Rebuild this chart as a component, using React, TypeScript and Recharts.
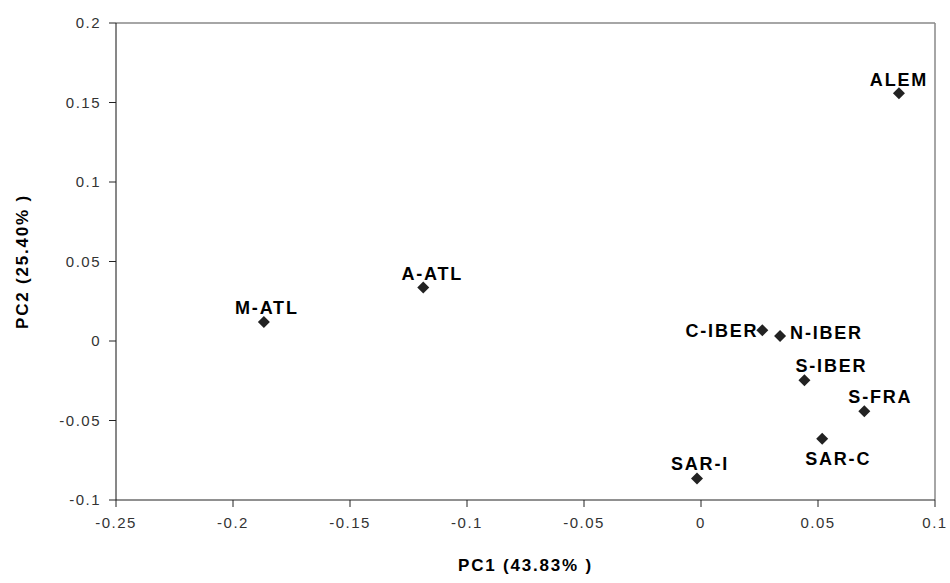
import React from 'react';
import { ScatterChart, Scatter, XAxis, YAxis, ReferenceLine, Label } from 'recharts';

const POPULATIONS = ['ALEM', 'A-ATL', 'M-ATL', 'C-IBER', 'N-IBER', 'S-IBER', 'S-FRA', 'SAR-C', 'SAR-I'];
const PC1 = [0.0846, -0.1187, -0.1868, 0.0262, 0.0338, 0.0442, 0.0698, 0.0518, -0.0017];
const PC2 = [0.1558, 0.0336, 0.012, 0.0067, 0.0031, -0.0247, -0.0442, -0.0614, -0.0865];

const X_TICKS = [-0.25, -0.2, -0.15, -0.1, -0.05, 0, 0.05, 0.1];
const Y_TICKS = [-0.1, -0.05, 0, 0.05, 0.1, 0.15, 0.2];

// where each label sits relative to its marker
const LABEL_PLACE: Record<string, { dx: number; dy: number; anchor: string }> = {
  'ALEM': { dx: 0, dy: -7, anchor: 'middle' },
  'A-ATL': { dx: 9, dy: -8, anchor: 'middle' },
  'M-ATL': { dx: 3, dy: -8, anchor: 'middle' },
  'C-IBER': { dx: -4, dy: 7, anchor: 'end' },
  'N-IBER': { dx: 10, dy: 3, anchor: 'start' },
  'S-IBER': { dx: 27, dy: -8, anchor: 'middle' },
  'S-FRA': { dx: 16, dy: -8, anchor: 'middle' },
  'SAR-C': { dx: 16, dy: 26, anchor: 'middle' },
  'SAR-I': { dx: 3, dy: -9, anchor: 'middle' },
};

const data = POPULATIONS.map((name, i) => ({ name, pc1: PC1[i], pc2: PC2[i] }));

const FONT = '"Liberation Sans", Arial, sans-serif';

const DiamondPoint = (props: any) => {
  const { cx, cy, payload } = props;
  const place = LABEL_PLACE[payload.name];
  const r = 6;
  return (
    <g>
      <polygon
        points={`${cx},${cy - r} ${cx + r},${cy} ${cx},${cy + r} ${cx - r},${cy}`}
        fill="#222"
      />
      <text
        x={cx + place.dx}
        y={cy + place.dy}
        textAnchor={place.anchor as any}
        fontFamily={FONT}
        fontWeight="bold"
        fontSize={18}
        letterSpacing={1.8}
        fill="#000"
      >
        {payload.name}
      </text>
    </g>
  );
};

const tickStyle = { fontFamily: FONT, fontSize: 15, fill: '#333', letterSpacing: 1.5 };

const App: React.FC = () => {
  return (
    <div style={{ position: 'absolute', left: 0, top: 0, width: 950, height: 583, background: '#fff' }}>
      <ScatterChart width={950} height={583} margin={{ top: 23, right: 15, bottom: 3, left: 0 }}>
        <XAxis
          type="number"
          dataKey="pc1"
          domain={[-0.25, 0.1]}
          ticks={X_TICKS}
          interval={0}
          height={80}
          stroke="#222"
          tickLine={{ stroke: '#222' }}
          tickSize={7}
          tick={tickStyle}
          tickMargin={10}
        >
          <Label
            value="PC1 (43.83% )"
            position="insideBottom"
            offset={9}
            style={{ fontFamily: FONT, fontWeight: 'bold', fontSize: 17, fill: '#000', letterSpacing: 1.8 }}
          />
        </XAxis>
        <YAxis
          type="number"
          dataKey="pc2"
          domain={[-0.1, 0.2]}
          ticks={Y_TICKS}
          interval={0}
          width={116}
          stroke="#111"
          tickLine={{ stroke: '#222' }}
          tickSize={7}
          tick={tickStyle}
          tickMargin={8}
        >
          <Label
            value="PC2 (25.40% )"
            angle={-90}
            position="insideLeft"
            offset={22}
            style={{ fontFamily: FONT, fontWeight: 'bold', fontSize: 17, fill: '#000', letterSpacing: 1.8, textAnchor: 'middle' }}
          />
        </YAxis>
        <ReferenceLine y={0.2} stroke="#888" strokeWidth={1.5} />
        <ReferenceLine x={0.1} stroke="#888" strokeWidth={1.5} />
        <Scatter data={data} shape={<DiamondPoint />} isAnimationActive={false} />
      </ScatterChart>
    </div>
  );
};

export default App;
